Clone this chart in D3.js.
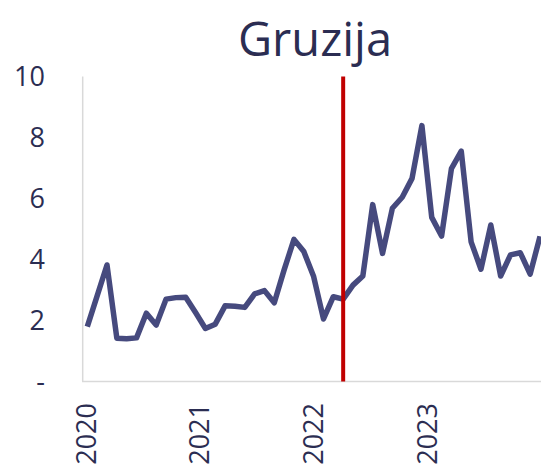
<!DOCTYPE html>
<html>
<head>
<meta charset="utf-8">
<script src="https://cdn.jsdelivr.net/npm/d3@7"></script>
<style>
  html, body { margin: 0; padding: 0; background: #fff; }
  svg { display: block; font-family: "Open Sans", sans-serif; }
</style>
</head>
<body>
<div id="chart"></div>
<script>
// monthly values, Jan 2020 .. Nov 2023
var months = [];
for (var yy = 2020; yy <= 2023; yy++) {
    for (var mm = 1; mm <= 12; mm++) {
        months.push(yy + "-" + (mm < 10 ? "0" + mm : mm));
    }
}
var values = [
    1.80, 2.81, 3.82, 1.42, 1.40, 1.43, 2.24, 1.85, 2.70, 2.75, 2.76, 2.26,
    1.74, 1.88, 2.48, 2.47, 2.43, 2.87, 2.98, 2.58, 3.66, 4.66, 4.26, 3.44,
    2.05, 2.78, 2.70, 3.16, 3.46, 5.80, 4.20, 5.68, 6.04, 6.66, 8.39, 5.38,
    4.77, 6.98, 7.55, 4.58, 3.68, 5.13, 3.46, 4.15, 4.22, 3.52, 4.76
];
months = months.slice(0, values.length);
var yearTicks = [2020, 2021, 2022, 2023];
var yTicks = [0, 2, 4, 6, 8, 10];
var markerMonth = "2022-03";
var title = "Gruzija";

var width = 541, height = 466;
var textColor = "#2b2d52";
var lineColor = "#464a7e";

var svg = d3.select("#chart").append("svg")
    .attr("width", width)
    .attr("height", height);

var x = d3.scaleLinear().domain([0, values.length - 1]).range([87.3, 540]);
var xYear = d3.scaleLinear().domain([2020, 2023]).range([85.8, 427.5]);
var y = d3.scaleLinear().domain([0, 10]).range([381.5, 76.5]);

// title
svg.append("text")
    .attr("x", 315)
    .attr("y", 56)
    .attr("text-anchor", "middle")
    .style("font-size", "47px")
    .style("fill", textColor)
    .text(title);

// axis lines
svg.append("line")
    .attr("x1", 82.7).attr("x2", 82.7)
    .attr("y1", y(10)).attr("y2", y(0))
    .style("stroke", "#d9d9d9").style("stroke-width", 1.5);
svg.append("line")
    .attr("x1", 82).attr("x2", width)
    .attr("y1", y(0)).attr("y2", y(0))
    .style("stroke", "#d9d9d9").style("stroke-width", 1.5);

// y tick labels
svg.selectAll("text.ytick").data(yTicks).enter().append("text")
    .attr("class", "ytick")
    .attr("x", 45)
    .attr("y", function (d) { return y(d); })
    .attr("dy", "0.36em")
    .attr("text-anchor", "end")
    .style("font-size", "27px")
    .style("fill", textColor)
    .text(function (d) { return d === 0 ? "-" : d; });

// year labels, rotated
svg.selectAll("text.xtick").data(yearTicks).enter().append("text")
    .attr("class", "xtick")
    .attr("transform", function (d) { return "translate(" + xYear(d) + ",403) rotate(-90)"; })
    .attr("dy", "0.36em")
    .attr("text-anchor", "end")
    .style("font-size", "27px")
    .style("fill", textColor)
    .text(function (d) { return d; });

// line
var line = d3.line()
    .x(function (d, i) { return x(i); })
    .y(function (d) { return y(d); });
svg.append("path")
    .datum(values)
    .attr("d", line)
    .style("fill", "none")
    .style("stroke", lineColor)
    .style("stroke-width", 5.5)
    .style("stroke-linejoin", "round");

// marker line
var mi = months.indexOf(markerMonth);
svg.append("line")
    .attr("x1", x(mi)).attr("x2", x(mi))
    .attr("y1", y(10)).attr("y2", y(0))
    .style("stroke", "#c00000")
    .style("stroke-width", 4);
</script>
</body>
</html>
